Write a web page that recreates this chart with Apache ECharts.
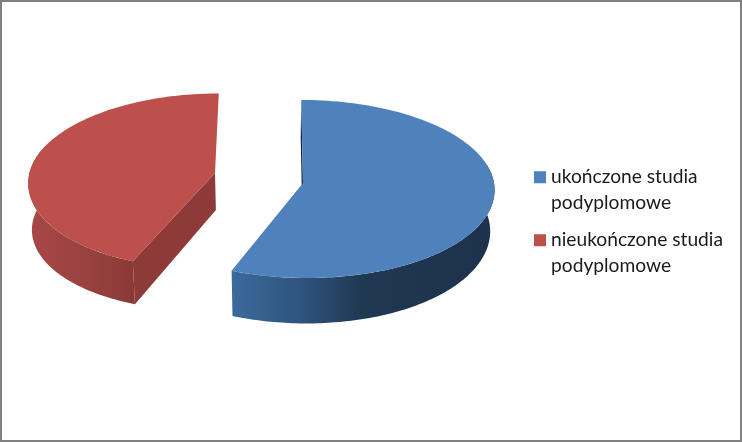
<!DOCTYPE html>
<html><head><meta charset="utf-8">
<style>html,body{margin:0;padding:0;background:#fff}#c{width:742px;height:442px}</style>
<script src="https://cdn.jsdelivr.net/npm/echarts@6/dist/echarts.min.js"></script>
</head><body><div id="c"></div>
<script>
var categories = ['ukończone studia\npodyplomowe', 'nieukończone studia\npodyplomowe'];
var shares = [56, 44];
var colors = ['#4f81bd', '#bd4f4c'];

var xv = 275, p = 0.067;
var geom = [
  {cx:303, cy:183, ay:183, rx:191, ry:88.6, depth:41, pow:1.5, apexDepth:41, shrink:0.98, shear:-2, cut:'start', wall:[78,null],
   grad:[[0,'#3b6a9c'],[0.25,'#2f5580'],[0.5,'#203852'],[1,'#1d324c']], cutColor:'#14263c'},
  {cx:215, cy:175, ay:173, rx:186, ry:87, depth:47, pow:-1.4, apexDepth:37, shrink:0.985, shear:6, cut:'start', wall:[null,290],
   grad:[[0,'#a84745'],[0.5,'#9a4240'],[1,'#8a3937']], cutColor:'#8e3a38'}
];
var total = shares[0] + shares[1];

function proj(g, u, t) {
  var s = 1 / (1 - p * t);
  var lean = t > 0 ? g.shear * t * t : 0;
  return [xv + (g.cx + g.rx * u - xv) * s - lean, g.cy + g.ry * t * s];
}
function rimPoint(g, deg) {
  var a = deg * Math.PI / 180;
  return proj(g, Math.sin(a), -Math.cos(a));
}
function lower(g, pt) {
  var s = 1 + (pt[1] - g.cy) / g.ry * p;
  return [xv + (pt[0] - xv) * g.shrink, pt[1] + g.depth * Math.pow(s, g.pow)];
}
function arc(g, a0, a1) {
  var out = [], n = 120;
  for (var i = 0; i <= n; i++) out.push(rimPoint(g, a0 + (a1 - a0) * i / n));
  return out;
}
function stops(list) {
  return list.map(function (e) { return {offset:e[0], color:e[1]}; });
}
function makeRender(idx) {
  return function (params, api) {
    var before = 0;
    for (var i = 0; i < idx; i++) before += shares[i];
    var start = before / total * 360;
    var end = start + api.value(0) / total * 360;
    var g = geom[idx];
    var apex = [g.cx, g.ay];
    var apexLow = [xv + (g.cx - xv) * g.shrink, g.ay + g.apexDepth];
    var wa0 = g.wall[0] == null ? start : g.wall[0];
    var wa1 = g.wall[1] == null ? end : g.wall[1];
    var rim = arc(g, wa0, wa1);
    var wall = rim.concat(rim.slice().reverse().map(function (q) { return lower(g, q); }));
    var edge = rimPoint(g, g.cut === 'start' ? start : end);
    var cut = [apex, edge, lower(g, edge), apexLow];
    var top = [apex].concat(arc(g, start, end));
    return {type:'group', children:[
      {type:'polygon', shape:{points:cut}, style:{fill:g.cutColor}},
      {type:'polygon', shape:{points:wall}, style:{fill:new echarts.graphic.LinearGradient(0,0,1,0,stops(g.grad))}},
      {type:'polygon', shape:{points:top}, style:{fill:colors[idx]}}
    ]};
  };
}
var series = categories.map(function (name, i) {
  return {type:'custom', name:name, coordinateSystem:'none', silent:true, animation:false,
    itemStyle:{color:colors[i]}, renderItem:makeRender(i), data:[[shares[i]]]};
});
var chart = echarts.init(document.getElementById('c'), null, {renderer:'canvas'});
chart.setOption({
  backgroundColor:'#fff', animation:false,
  graphic:[{type:'rect', shape:{x:1,y:1,width:740,height:440}, style:{fill:'none',stroke:'#808080',lineWidth:2}, z:100}],
  legend:{orient:'vertical', left:534, top:139, itemWidth:12, itemHeight:12, itemGap:-13.5,
    icon:'rect', padding:0, selectedMode:false, data:categories,
    formatter:function (n) { return '\n' + n; },
    textStyle:{fontFamily:'Lato', fontSize:19.2, color:'#1a1a1a', lineHeight:25.5}},
  series:series
});
</script></body></html>
